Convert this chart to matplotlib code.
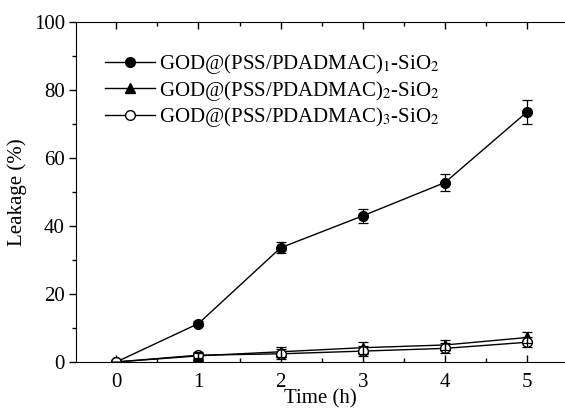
import matplotlib
matplotlib.use("Agg")
import matplotlib.pyplot as plt
from matplotlib.ticker import MultipleLocator

plt.rcParams['font.family'] = 'Liberation Serif'
plt.rcParams['mathtext.fontset'] = 'stix'

# data
time_h = [0, 1, 2, 3, 4, 5]
leak_1 = [0, 11.3, 33.6, 43.0, 52.8, 73.6]
err_1 = [0, 0.8, 1.6, 2.0, 2.6, 3.6]
leak_2 = [0, 1.8, 3.0, 4.2, 5.0, 7.2]
err_2 = [0, 0.8, 1.5, 1.8, 1.5, 1.5]
leak_3 = [0, 2.0, 2.4, 3.2, 4.0, 5.8]
err_3 = [0, 0.8, 1.5, 1.5, 1.5, 1.5]
labels = [r'GOD@(PSS/PDADMAC)$_1$-SiO$_2$',
          r'GOD@(PSS/PDADMAC)$_2$-SiO$_2$',
          r'GOD@(PSS/PDADMAC)$_3$-SiO$_2$']

fig = plt.figure(figsize=(5.65, 4.09), dpi=100)
ax = fig.add_axes([0.1345, 0.115, 0.8655, 0.831])

series = [(leak_1, err_1, 'o', 'black'),
          (leak_2, err_2, '^', 'black'),
          (leak_3, err_3, 'o', 'white')]
for (y, e, m, fc), lab in zip(series, labels):
    ax.plot(time_h, y, color='black', lw=1.0, marker=m, mfc=fc, mec='black',
            markersize=7, label=lab, zorder=2)
    ax.errorbar(time_h, y, yerr=e, fmt='none', ecolor='black', elinewidth=0.9,
                capsize=3.5, capthick=0.9, zorder=3)

ax.set_xlim(-0.49, 5.46)
ax.set_ylim(0, 100)
ax.xaxis.set_major_locator(MultipleLocator(1))
ax.xaxis.set_minor_locator(MultipleLocator(0.5))
ax.yaxis.set_major_locator(MultipleLocator(20))
ax.yaxis.set_minor_locator(MultipleLocator(10))
ax.tick_params(axis='x', which='both', direction='in', top=True, labelsize=15, width=1, pad=8)
ax.tick_params(axis='y', which='both', direction='out', labelsize=15, width=1, pad=3)
ax.tick_params(which='major', length=5)
ax.tick_params(which='minor', length=3)
ax.spines['right'].set_visible(False)

ax.set_xlabel('Time (h)', fontsize=15, labelpad=-2)
ax.set_ylabel('Leakage (%)', fontsize=15, labelpad=5)

ax.legend(loc='upper left', bbox_to_anchor=(0.039, 0.943), frameon=False, fontsize=15,
          borderpad=0, handlelength=2.4, handletextpad=0.15, labelspacing=0.13)

fig.savefig('out.png', dpi=100)
